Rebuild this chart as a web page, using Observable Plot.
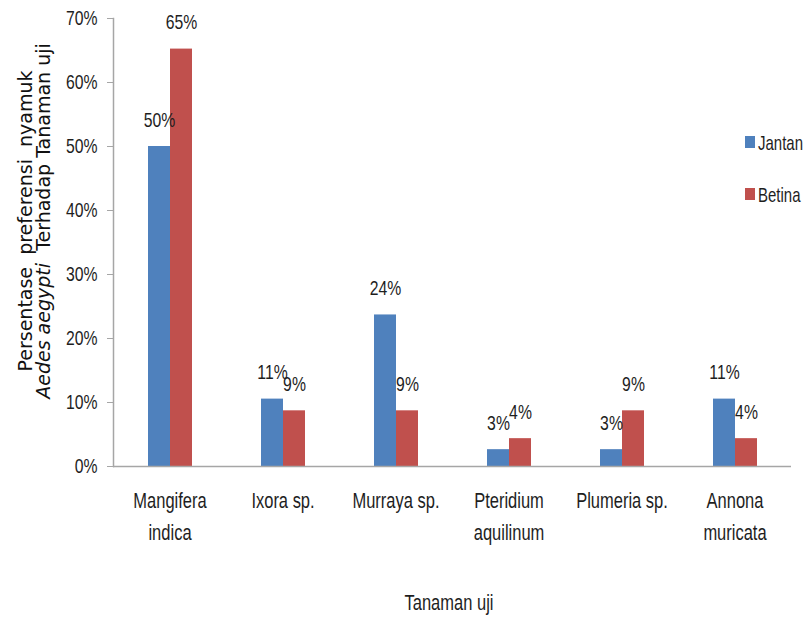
<!DOCTYPE html>
<html><head><meta charset="utf-8">
<script src="https://cdn.jsdelivr.net/npm/d3@7"></script>
<script src="https://cdn.jsdelivr.net/npm/@observablehq/plot@0.6"></script>
<style>
body{margin:0;background:#fff}
#chart{position:relative;width:809px;height:621px}
</style>
</head><body><div id="chart"></div>
<script>
const categories = ["Mangifera indica","Ixora sp.","Murraya sp.","Pteridium aquilinum","Plumeria sp.","Annona muricata"];
const categoryLabels = ["Mangifera\nindica","Ixora sp.","Murraya sp.","Pteridium\naquilinum","Plumeria sp.","Annona\nmuricata"];
const series = ["Jantan","Betina"];
const jantan = [0.5, 0.1053, 0.2368, 0.0263, 0.0263, 0.1053];
const betina = [0.6522, 0.0870, 0.0870, 0.0435, 0.0870, 0.0435];
const yTicks = [0, 0.1, 0.2, 0.3, 0.4, 0.5, 0.6, 0.7];
const colors = ["#4F81BD", "#C0504D"];
const xTitle = "Tanaman uji";
const yTitle1 = "Persentase\u00a0\u00a0preferensi\u00a0\u00a0nyamuk";
const yTitle2a = "Aedes aegypti";
const yTitle2b = "\u00a0\u00a0Terhadap Tanaman uji";

const data = categories.flatMap((c, i) => [
  {plant: c, sex: "Jantan", value: jantan[i]},
  {plant: c, sex: "Betina", value: betina[i]}
]);
const NARROW = '"Liberation Sans", Arial, sans-serif';
const K = 0.75; // horizontal condensing to mimic a narrow font
const pct = d3.format(".0%");
const grey = "#a6a6a6";
const ink = "#1e1e1e";

const chart = Plot.plot({
  width: 809, height: 621,
  marginLeft: 111, marginRight: 16, marginTop: 18, marginBottom: 155,
  style: {fontFamily: NARROW, fontSize: "21px", color: ink, background: "#fff"},
  fx: {domain: categories, padding: 0, label: null},
  x: {domain: series, paddingInner: 0, paddingOuter: 1.53, axis: null},
  y: {domain: [0, 0.7], label: null},
  color: {domain: series, range: colors},
  marks: [
    Plot.barY(data, {fx: "plant", x: "sex", y: "value", fill: "sex"}),
    Plot.ruleY([0], {stroke: grey, strokeWidth: 1.5}),
    Plot.frame({anchor: "left", facetAnchor: "left", stroke: grey, strokeWidth: 1.5}),
    Plot.axisY({ticks: yTicks, tickFormat: pct, tickSize: 6, tickPadding: 10, stroke: grey, fill: ink, fontSize: 21, label: null}),
    Plot.axisFx({anchor: "bottom", tickSize: 0, tickPadding: 19, tickFormat: d => categoryLabels[categories.indexOf(d)], lineHeight: 1.45, fontSize: 22, fill: ink, label: null}),
    Plot.text(data, {fx: "plant", x: "sex", y: "value", text: d => pct(d.value), lineAnchor: "bottom", dy: -20, fontSize: 21, fill: ink})
  ]
});

const svg = d3.select(chart);
// condense every Plot text horizontally about its anchor
svg.selectAll("text").each(function () {
  let t = this.getAttribute("transform") || "";
  const x = this.getAttribute("x");
  if (x && !isNaN(+x) && +x !== 0) { t = `translate(${+x},0) ` + t; this.removeAttribute("x"); }
  this.setAttribute("transform", `${t} scale(${K},1)`);
});
// y-axis title (two lines, rotated)
const yt = svg.append("g").attr("font-family", '"DejaVu Sans", sans-serif').attr("font-size", 19).attr("fill", "#111").attr("text-anchor", "middle");
yt.append("text").attr("transform", "translate(32,221) rotate(-90)").text(yTitle1);
const l2 = yt.append("text").attr("transform", "translate(50,221) rotate(-90)");
l2.append("tspan").attr("font-style", "italic").text(yTitle2a);
l2.append("tspan").text(yTitle2b);
// x-axis title
svg.append("text").attr("transform", `translate(449,610) scale(${K},1)`).attr("text-anchor", "middle")
  .attr("font-family", NARROW).attr("font-size", 22).attr("fill", ink).text(xTitle);
// legend
const lg = svg.append("g").attr("font-family", NARROW).attr("font-size", 20).attr("fill", ink).attr("text-anchor", "start");
series.forEach((s, i) => {
  const y0 = 136 + i * 52;
  lg.append("rect").attr("x", 745).attr("y", y0).attr("width", 10).attr("height", 12).attr("fill", colors[i]);
  lg.append("text").attr("transform", `translate(758,${y0 + 14}) scale(${K},1)`).text(s);
});

document.getElementById("chart").appendChild(chart);
</script>
</body></html>
